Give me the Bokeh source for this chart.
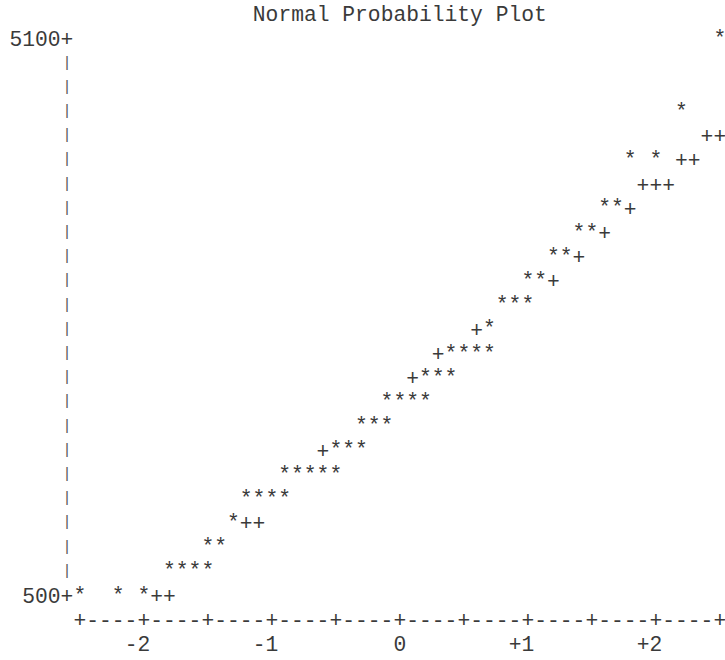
import numpy as np
from bokeh.plotting import figure
from bokeh.models import ColumnDataSource, Range1d
from bokeh.core.properties import value
from bokeh.embed import file_html
from bokeh.resources import INLINE

# ---------------- data ----------------
title_text = "Normal Probability Plot"

# observations ('*'): normal quantile vs value (binned to the print grid)
obs_q = [-2.5, -2.2, -2.0,
         -1.8, -1.7, -1.6, -1.5,
         -1.5, -1.4,
         -1.3,
         -1.2, -1.1, -1.0, -0.9,
         -0.9, -0.8, -0.7, -0.6, -0.5,
         -0.5, -0.4, -0.3,
         -0.3, -0.2, -0.1,
         -0.1, 0.0, 0.1, 0.2,
         0.2, 0.3, 0.4,
         0.4, 0.5, 0.6, 0.7,
         0.7,
         0.8, 0.9, 1.0,
         1.0, 1.1,
         1.2, 1.3,
         1.4, 1.5,
         1.6, 1.7,
         1.8, 2.0,
         2.2,
         2.5]
obs_v = [500, 500, 500,
         700, 700, 700, 700,
         900, 900,
         1100,
         1300, 1300, 1300, 1300,
         1500, 1500, 1500, 1500, 1500,
         1700, 1700, 1700,
         1900, 1900, 1900,
         2100, 2100, 2100, 2100,
         2300, 2300, 2300,
         2500, 2500, 2500, 2500,
         2700,
         2900, 2900, 2900,
         3100, 3100,
         3300, 3300,
         3500, 3500,
         3700, 3700,
         4100, 4100,
         4500,
         5100]

# reference line ('+') where visible
ref_q = [-1.9, -1.8, -1.2, -1.1, -0.6, 0.1, 0.3, 0.6, 1.2, 1.4, 1.6, 1.8,
         1.9, 2.0, 2.1, 2.2, 2.3, 2.4, 2.5]
ref_v = [500, 500, 1100, 1100, 1700, 2300, 2500, 2700, 3100, 3300, 3500, 3700,
         3900, 3900, 3900, 4100, 4100, 4300, 4300]

x_tick_vals = [-2, -1, 0, 1, 2]
x_tick_text = ["-2", "-1", "0", "+1", "+2"]
y_tick_vals = [500, 5100]
y_tick_text = ["500", "5100"]

# ---------------- print grid geometry ----------------
COL = 0.1          # quantile units per character column
ROW = 200          # value units per print line
CW = 12.8          # px per column
RH = 24.2          # px per line
W, H = 725, 656
X0_PX = 399.3      # canvas px of quantile 0
Y500_PX = 595.0    # canvas px of value 500 line

px_per_x = CW / COL
px_per_v = RH / ROW
x_start = -X0_PX / px_per_x
x_end = (W - X0_PX) / px_per_x
v_top = 500 + Y500_PX / px_per_v
v_bot = 500 - (H - Y500_PX) / px_per_v

FONT = value("'Courier New', 'Liberation Mono', monospace")
FS = "21.3px"
INK = "#3a3a3a"

p = figure(width=W, height=H, output_backend="svg", toolbar_location=None,
           x_range=Range1d(x_start, x_end), y_range=Range1d(v_bot, v_top),
           x_axis_type=None, y_axis_type=None, min_border=0,
           background_fill_color="white", border_fill_color="white")
p.outline_line_color = None
p.grid.visible = False

xmin, xmax = -2.5, 2.5
vmin, vmax = min(y_tick_vals), max(y_tick_vals)
axis_x = xmin - COL          # column holding the vertical axis
axis_row = vmin - ROW        # line holding the horizontal axis
label_row = vmin - 2 * ROW

def put(xs, ys, chars, align="center", size=FS, color=INK):
    src = ColumnDataSource(dict(x=list(xs), y=list(ys), t=list(chars)))
    p.text(x="x", y="y", text="t", source=src, text_font=FONT,
           text_font_size=size, text_color=color, text_align=align,
           text_baseline="middle")

# vertical axis: '+' at the tick lines, '|' in between
rows = np.arange(vmin, vmax + ROW / 2, ROW)
bars = [r for r in rows if r not in y_tick_vals]
put([axis_x] * len(bars), bars, ["|"] * len(bars), size="15px", color="#555555")
put([axis_x] * len(y_tick_vals), y_tick_vals, ["+"] * len(y_tick_vals))
put([axis_x - COL / 2] * len(y_tick_vals), y_tick_vals, y_tick_text, align="right")

# horizontal axis
cols = np.round(np.arange(xmin, xmax + COL / 2, COL), 2)
put(cols, [axis_row] * len(cols),
    ["+" if abs(c * 2 - round(c * 2)) < 1e-9 else "-" for c in cols])
put([t + COL / 2 for t in x_tick_vals], [label_row] * len(x_tick_vals),
    x_tick_text, align="right")

# reference line then observations
put(ref_q, ref_v, ["+"] * len(ref_q))
put(obs_q, obs_v, ["*"] * len(obs_q))

# title
put([0.0], [vmax + ROW], [title_text])

open("out.html", "w").write(file_html(p, INLINE))
